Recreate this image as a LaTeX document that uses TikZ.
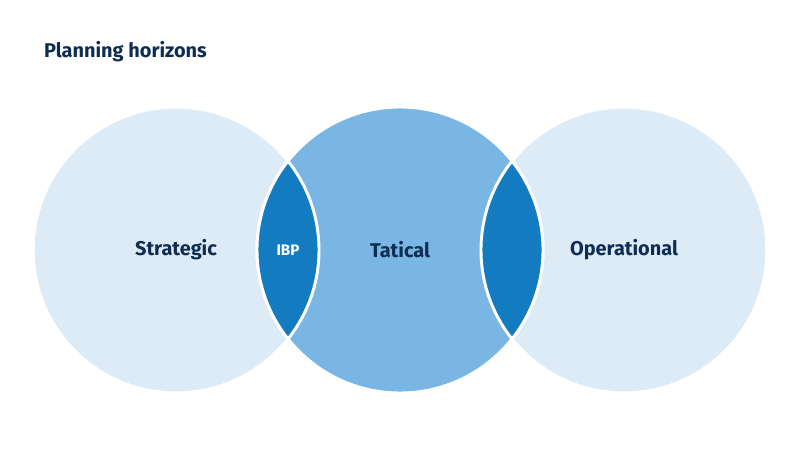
\documentclass[tikz,border=0pt]{standalone}
\usepackage{fontspec}
\setmainfont{Fira Sans}
\usetikzlibrary{positioning}
\definecolor{lightblue}{HTML}{DDEBF7}
\definecolor{midblue}{HTML}{7AB6E3}
\definecolor{darkblue}{HTML}{137CC1}
\definecolor{navy}{HTML}{0F2D52}
\begin{document}
\begin{tikzpicture}[x=0.03cm, y=-0.03cm,
    horizon/.style={draw=white, line width=2.5pt},
    label/.style={text=navy, font=\bfseries\fontsize{17}{20}\selectfont}]
\useasboundingbox (0,0) rectangle (800,450);

% title
\node[label, anchor=west] (title) at (40,52) {Planning horizons};

% outer horizons
\fill[lightblue, horizon] (176,250) circle (143);
\fill[lightblue, horizon] (624,250) circle (143);
% middle horizon
\fill[midblue, horizon] (400,250) circle (143);

% overlaps
\begin{scope}
    \clip (176,250) circle (143);
    \fill[darkblue, horizon] (400,250) circle (143);
\end{scope}
\begin{scope}
    \clip (624,250) circle (143);
    \fill[darkblue, horizon] (400,250) circle (143);
\end{scope}
\draw[horizon] (176,250) circle (143);
\draw[horizon] (624,250) circle (143);

% labels
\node[label] (strat) at (176,250) {Strategic};
\node[text=white, font=\bfseries\fontsize{13}{15}\selectfont] (ibp) at (288,250) {IBP};
\node[label] (tact) at (400,250) {Tatical};
\node[label] (oper) at (624,250) {Operational};
\end{tikzpicture}
\end{document}
